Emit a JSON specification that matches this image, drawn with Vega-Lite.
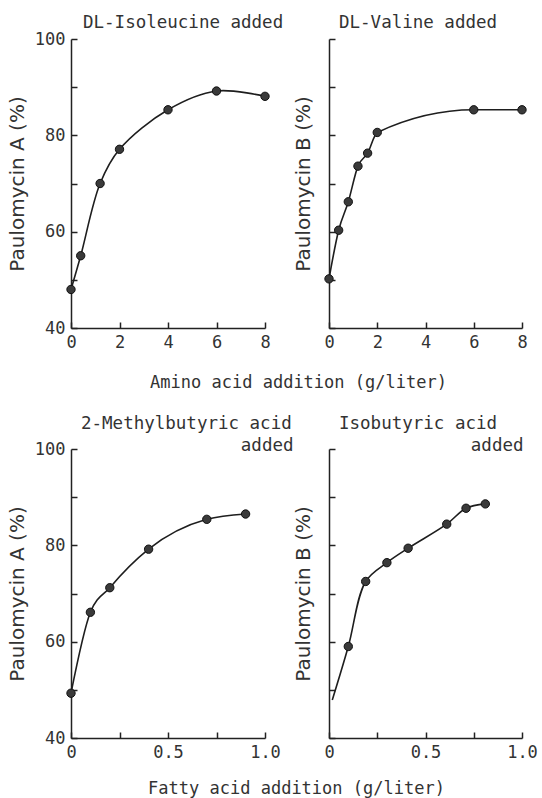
{
  "$schema": "https://vega.github.io/schema/vega-lite/v6.json",
  "padding": {"left": 7, "top": 13, "right": 5, "bottom": 2},
  "background": "white",
  "datasets": {
    "ile": [
      {"x": 0, "y": 48, "pt": 1}, {"x": 0.4, "y": 55, "pt": 1}, {"x": 1.2, "y": 70, "pt": 1},
      {"x": 2, "y": 77.1, "pt": 1}, {"x": 4, "y": 85.3, "pt": 1}, {"x": 6, "y": 89.2, "pt": 1},
      {"x": 8, "y": 88.1, "pt": 1}
    ],
    "val": [
      {"x": 0, "y": 50.2, "pt": 1}, {"x": 0.4, "y": 60.3, "pt": 1}, {"x": 0.8, "y": 66.2, "pt": 1},
      {"x": 1.2, "y": 73.6, "pt": 1}, {"x": 1.6, "y": 76.3, "pt": 1}, {"x": 2, "y": 80.6, "pt": 1},
      {"x": 6, "y": 85.3, "pt": 1}, {"x": 8, "y": 85.3, "pt": 1}
    ],
    "mba": [
      {"x": 0, "y": 49.3, "pt": 1}, {"x": 0.1, "y": 66.1, "pt": 1}, {"x": 0.2, "y": 71.2, "pt": 1},
      {"x": 0.4, "y": 79.2, "pt": 1}, {"x": 0.7, "y": 85.4, "pt": 1}, {"x": 0.9, "y": 86.5, "pt": 1}
    ],
    "iba": [
      {"x": 0.017, "y": 47.9, "pt": 0}, {"x": 0.1, "y": 59, "pt": 1}, {"x": 0.19, "y": 72.5, "pt": 1},
      {"x": 0.3, "y": 76.4, "pt": 1}, {"x": 0.41, "y": 79.4, "pt": 1}, {"x": 0.61, "y": 84.4, "pt": 1},
      {"x": 0.71, "y": 87.7, "pt": 1}, {"x": 0.81, "y": 88.6, "pt": 1}
    ]
  },
  "columns": 2,
  "spacing": {"row": 121, "column": 64},
  "bounds": "flush",
  "concat": [
    {
      "width": 194, "height": 289,
      "title": {"text": "DL-Isoleucine added", "anchor": "start", "frame": "group", "dx": 12, "offset": -15, "baseline": "alphabetic"},
      "data": {"name": "ile"},
      "encoding": {
        "x": {"field": "x", "type": "quantitative", "scale": {"domain": [0, 8], "nice": false},
          "axis": {"values": [0, 2, 4, 6, 8], "format": "d", "title": "Amino acid addition (g/liter)", "titleX": 227, "titleY": 59, "titleBaseline": "alphabetic", "titleAlign": "center"}},
        "y": {"field": "y", "type": "quantitative", "scale": {"domain": [40, 100], "nice": false, "zero": false},
          "axis": {"values": [40, 50, 60, 70, 80, 90, 100], "labelExpr": "datum.value % 20 == 0 ? datum.label : ''", "title": "Paulomycin A (%)", "titleFont": "DejaVu Sans", "titleFontSize": 20, "titlePadding": 7}}
      },
      "layer": [
        {"mark": {"type": "line", "interpolate": "catmull-rom", "color": "#1e1e1e", "strokeWidth": 1.6}},
        {"transform": [{"filter": "datum.pt == 1"}], "mark": {"type": "circle", "size": 70, "color": "#3a3a3a", "opacity": 1, "stroke": "#111", "strokeWidth": 1}}
      ]
    },
    {
      "width": 193, "height": 289,
      "title": {"text": "DL-Valine added", "anchor": "start", "frame": "group", "dx": 10, "offset": -7, "baseline": "alphabetic"},
      "data": {"name": "val"},
      "encoding": {
        "x": {"field": "x", "type": "quantitative", "scale": {"domain": [0, 8], "nice": false},
          "axis": {"values": [0, 2, 4, 6, 8], "format": "d", "title": null}},
        "y": {"field": "y", "type": "quantitative", "scale": {"domain": [40, 100], "nice": false, "zero": false},
          "axis": {"values": [40, 50, 60, 70, 80, 90, 100], "labels": false, "title": "Paulomycin B (%)", "titleFont": "DejaVu Sans", "titleFontSize": 20, "titlePadding": 15}}
      },
      "layer": [
        {"mark": {"type": "line", "interpolate": "monotone", "color": "#1e1e1e", "strokeWidth": 1.6}},
        {"transform": [{"filter": "datum.pt == 1"}], "mark": {"type": "circle", "size": 70, "color": "#3a3a3a", "opacity": 1, "stroke": "#111", "strokeWidth": 1}}
      ]
    },
    {
      "width": 194, "height": 289,
      "title": {"text": "2-Methylbutyric acid", "anchor": "start", "frame": "group", "dx": 10, "offset": -10, "baseline": "alphabetic"},
      "data": {"name": "mba"},
      "resolve": {"axis": {"x": "independent"}},
      "encoding": {
        "y": {"field": "y", "type": "quantitative", "scale": {"domain": [40, 100], "nice": false, "zero": false},
          "axis": {"values": [40, 50, 60, 70, 80, 90, 100], "labelExpr": "datum.value % 20 == 0 ? datum.label : ''", "title": "Paulomycin A (%)", "titleFont": "DejaVu Sans", "titleFontSize": 20, "titlePadding": 7}}
      },
      "layer": [
        {"mark": {"type": "line", "interpolate": "monotone", "color": "#1e1e1e", "strokeWidth": 1.6},
          "encoding": {"x": {"field": "x", "type": "quantitative", "scale": {"domain": [0, 1], "nice": false},
            "axis": {"orient": "bottom", "values": [0, 0.25, 0.5, 0.75, 1], "labelExpr": "datum.value == 0 ? '0' : (datum.value == 0.5 || datum.value == 1) ? format(datum.value, '.1f') : ''", "title": "Fatty acid addition (g/liter)", "titleX": 225, "titleY": 55, "titleBaseline": "alphabetic", "titleAlign": "center"}}}},
        {"transform": [{"filter": "datum.pt == 1"}], "mark": {"type": "circle", "size": 70, "color": "#3a3a3a", "opacity": 1, "stroke": "#111", "strokeWidth": 1},
          "encoding": {"x": {"field": "x", "type": "quantitative", "scale": {"domain": [0, 1], "nice": false},
            "axis": {"orient": "top", "domain": false, "ticks": false, "labels": false, "title": "added", "titleFont": "DejaVu Sans Mono", "titleFontSize": 17.5, "titleColor": "#333", "titleX": 222, "titleY": 1, "titleAlign": "right", "titleBaseline": "alphabetic"}}}}
      ]
    },
    {
      "width": 193, "height": 289,
      "title": {"text": "Isobutyric acid", "anchor": "start", "frame": "group", "dx": 10, "offset": -10, "baseline": "alphabetic"},
      "data": {"name": "iba"},
      "resolve": {"axis": {"x": "independent"}},
      "encoding": {
        "y": {"field": "y", "type": "quantitative", "scale": {"domain": [40, 100], "nice": false, "zero": false},
          "axis": {"values": [40, 50, 60, 70, 80, 90, 100], "labels": false, "title": "Paulomycin B (%)", "titleFont": "DejaVu Sans", "titleFontSize": 20, "titlePadding": 15}}
      },
      "layer": [
        {"mark": {"type": "line", "interpolate": "catmull-rom", "color": "#1e1e1e", "strokeWidth": 1.6},
          "encoding": {"x": {"field": "x", "type": "quantitative", "scale": {"domain": [0, 1], "nice": false},
            "axis": {"orient": "bottom", "values": [0, 0.25, 0.5, 0.75, 1], "labelExpr": "datum.value == 0 ? '0' : (datum.value == 0.5 || datum.value == 1) ? format(datum.value, '.1f') : ''", "title": null}}}},
        {"transform": [{"filter": "datum.pt == 1"}], "mark": {"type": "circle", "size": 70, "color": "#3a3a3a", "opacity": 1, "stroke": "#111", "strokeWidth": 1},
          "encoding": {"x": {"field": "x", "type": "quantitative", "scale": {"domain": [0, 1], "nice": false},
            "axis": {"orient": "top", "domain": false, "ticks": false, "labels": false, "title": "added", "titleFont": "DejaVu Sans Mono", "titleFontSize": 17.5, "titleColor": "#333", "titleX": 194, "titleY": 1, "titleAlign": "right", "titleBaseline": "alphabetic"}}}}
      ]
    }
  ],
  "config": {
    "view": {"stroke": null},
    "title": {"font": "DejaVu Sans Mono", "fontSize": 17.5, "fontWeight": "normal", "color": "#333"},
    "axis": {
      "grid": false,
      "domainColor": "#222", "domainWidth": 1.5,
      "tickColor": "#222", "tickWidth": 1.5, "tickSize": -6,
      "labelFont": "DejaVu Sans Mono", "labelFontSize": 17, "labelColor": "#333", "labelPadding": 12,
      "labelFlush": false, "labelOverlap": false,
      "titleFont": "DejaVu Sans Mono", "titleFontSize": 17, "titleFontWeight": "normal", "titleColor": "#333"
    }
  }
}
